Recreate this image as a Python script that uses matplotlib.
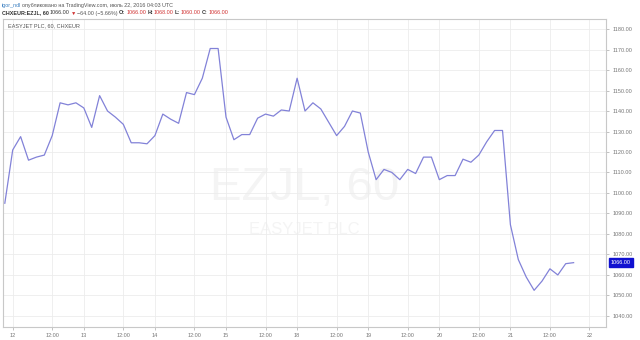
import matplotlib
matplotlib.use("Agg")
import matplotlib.pyplot as plt
import numpy as np

plt.rcParams["font.family"] = ["Liberation Sans", "DejaVu Sans"]

# hourly closes, EZJL (CHXEUR), 60 min bars
prices = [1095.0, 1121.0, 1127.5, 1116.0, 1117.5, 1118.5, 1128.0, 1144.0, 1143.0, 1144.0,
          1141.5, 1132.0, 1147.5, 1140.0, 1137.0, 1133.5, 1124.5, 1124.5, 1124.0, 1128.0,
          1138.5, 1136.0, 1134.0, 1149.0, 1148.0, 1156.0, 1170.5, 1170.5, 1137.0, 1126.0,
          1128.5, 1128.5, 1136.5, 1138.5, 1137.5, 1140.5, 1140.0, 1156.0, 1140.0, 1144.0,
          1141.0, 1134.5, 1128.0, 1132.5, 1140.0, 1139.0, 1120.0, 1106.5, 1111.5, 1110.0,
          1106.5, 1111.5, 1109.5, 1117.5, 1117.5, 1106.5, 1108.5, 1108.5, 1116.5, 1115.0,
          1118.5, 1125.0, 1130.5, 1130.5, 1084.5, 1067.5, 1059.0, 1052.5, 1057.0, 1063.0,
          1060.0, 1065.5, 1066.0]
tick_pos = [1, 6, 10, 15, 19, 24, 28, 33, 37, 42, 46, 51, 55, 60, 64, 69, 74]
tick_labels = ["12", "12:00", "13", "12:00", "14", "12:00", "15", "12:00", "18",
               "12:00", "19", "12:00", "20", "12:00", "21", "12:00", "22"]
y_ticks = [1040, 1050, 1060, 1070, 1080, 1090, 1100, 1110, 1120, 1130,
           1140, 1150, 1160, 1170, 1180]
last_price = 1066.0

fig = plt.figure(figsize=(6.4, 3.4), dpi=100)
fig.patch.set_facecolor("white")
ax = fig.add_axes([3 / 640, 13 / 340, 603 / 640, 308 / 340])

x = np.arange(len(prices))
ax.plot(x, prices, color="#8282d8", lw=0.9, zorder=3)

ax.set_xlim(-0.23, 76.1)
ax.set_ylim(1034.6, 1184.9)
ax.set_xticks(tick_pos)
ax.set_xticklabels(tick_labels)
ax.set_yticks(y_ticks)
ax.set_yticklabels([f"{v:.2f}" for v in y_ticks])
ax.yaxis.tick_right()
ax.tick_params(axis="both", labelsize=4, colors="#aaaaaa", length=2.5, width=0.5,
               labelcolor="#777777", pad=2)
ax.grid(True, color="#ececec", lw=0.6, zorder=0)
for s in ax.spines.values():
    s.set_color("#c8c8c8")
    s.set_linewidth(0.8)

# watermark
ax.text(0.5, 0.45, "EZJL, 60", transform=ax.transAxes, ha="center", va="center",
        fontsize=34, color="#f4f4f4", zorder=1)
ax.text(0.5, 0.315, "EASYJET PLC", transform=ax.transAxes, ha="center", va="center",
        fontsize=12, color="#f4f4f4", zorder=1)

ax.text(0.008, 0.985, "EASYJET PLC, 60, CHXEUR", transform=ax.transAxes, ha="left",
        va="top", fontsize=4, color="#555555")

# last price marker
ax.annotate(f"{last_price:.2f}", xy=(1.0, last_price), xycoords=("axes fraction", "data"),
            xytext=(3.5, 0), textcoords="offset points", ha="left", va="center",
            fontsize=4, color="white",
            bbox=dict(boxstyle="square,pad=0.3", fc="#1010d0", ec="#1010d0"),
            annotation_clip=False)

# header lines, built piece by piece
fig.canvas.draw()
renderer = fig.canvas.get_renderer()


def header(pieces, y_px, x0=2):
    xpos = x0
    for txt, col, wt in pieces:
        t = fig.text(xpos / 640, 1 - y_px / 340, txt, color=col, fontsize=3.9,
                     fontweight=wt, ha="left", va="center")
        bb = t.get_window_extent(renderer)
        xpos += bb.width + 1.1


header([("igor_ndl", "#3a7fc0", "normal"),
        ("опубликовано на TradingView.com, июль 22, 2016 04:03 UTC", "#555555", "normal")], 5)
header([("CHXEUR:EZJL, 60", "#333333", "bold"),
        ("1066.00", "#333333", "normal"),
        ("▼", "#d03030", "normal"),
        ("−64.00 (−5.66%)", "#555555", "normal"),
        ("O:", "#333333", "bold"), ("1066.00", "#d03030", "normal"),
        ("H:", "#333333", "bold"), ("1068.00", "#d03030", "normal"),
        ("L:", "#333333", "bold"), ("1060.00", "#d03030", "normal"),
        ("C:", "#333333", "bold"), ("1066.00", "#d03030", "normal")], 13)

fig.savefig("out.png", dpi=100)
